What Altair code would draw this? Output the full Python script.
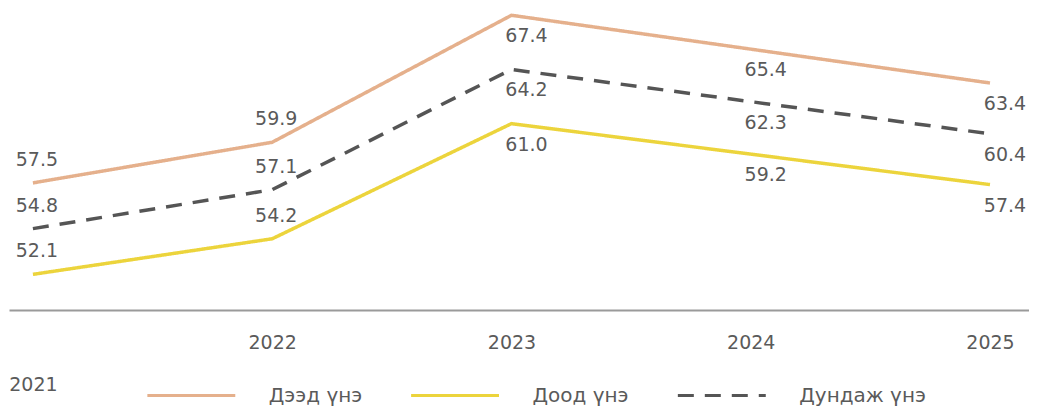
import altair as alt
import pandas as pd

years = [2021, 2022, 2023, 2024, 2025]
upper = [57.5, 59.9, 67.4, 65.4, 63.4]
lower = [52.1, 54.2, 61.0, 59.2, 57.4]
mean = [54.8, 57.1, 64.2, 62.3, 60.4]
series_names = ["Дээд үнэ", "Доод үнэ", "Дундаж үнэ"]
colors = ["#e5b08c", "#ecd43c", "#555555"]
dashes = [[1, 0], [1, 0], [16, 11]]

rows = []
for name, vals in zip(series_names, [upper, lower, mean]):
    for yr, v in zip(years, vals):
        rows.append({"year": yr, "value": v, "series": name})
df = pd.DataFrame(rows)

FONT = "DejaVu Sans"
TXT = "#5a5a5a"
FS = 19

legend = alt.Legend(
    orient="none", legendX=137, legendY=340, direction="horizontal",
    title=None, symbolType="stroke", symbolSize=7744, symbolStrokeWidth=5,
    labelFont=FONT, labelFontSize=20, labelColor=TXT, labelOffset=32,
    columnPadding=42, padding=0, columns=3,
)

x = alt.X(
    "year:Q",
    scale=alt.Scale(domain=[2020.9, 2025.163], nice=False, zero=False),
    axis=alt.Axis(
        values=years, format="d", title=None, ticks=False, grid=False,
        labelFlush=False, labelFont=FONT, labelFontSize=FS, labelColor=TXT,
        labelPadding={"condition": {"test": "datum.value == 2021", "value": 66}, "value": 24},
        domainColor="#9a9a9a", domainWidth=2,
    ),
)
y = alt.Y("value:Q", scale=alt.Scale(domain=[50, 67.7], nice=False, zero=False), axis=None)

base = alt.Chart(df)

lines = base.mark_line(strokeWidth=3.5).encode(
    x=x, y=y,
    color=alt.Color("series:N", scale=alt.Scale(domain=series_names, range=colors), legend=legend),
    strokeDash=alt.StrokeDash("series:N", scale=alt.Scale(domain=series_names, range=dashes), legend=legend),
    strokeWidth=alt.StrokeWidth("series:N", scale=alt.Scale(domain=series_names, range=[3, 3, 5]), legend=None),
)

early = base.transform_filter("datum.year <= 2022").mark_text(
    dy=-23, dx=4, font=FONT, fontSize=FS, color=TXT
).encode(x=x, y=y, text=alt.Text("value:Q", format=".1f"))

late = base.transform_filter("datum.year >= 2023").mark_text(
    dy=21, dx=15, font=FONT, fontSize=FS, color=TXT
).encode(x=x, y=y, text=alt.Text("value:Q", format=".1f"))

chart = alt.layer(lines, early, late).properties(
    width=1021, height=300, padding=0
).configure_view(stroke=None)

chart.save("out.html", embed_options={"renderer": "svg", "actions": False})
